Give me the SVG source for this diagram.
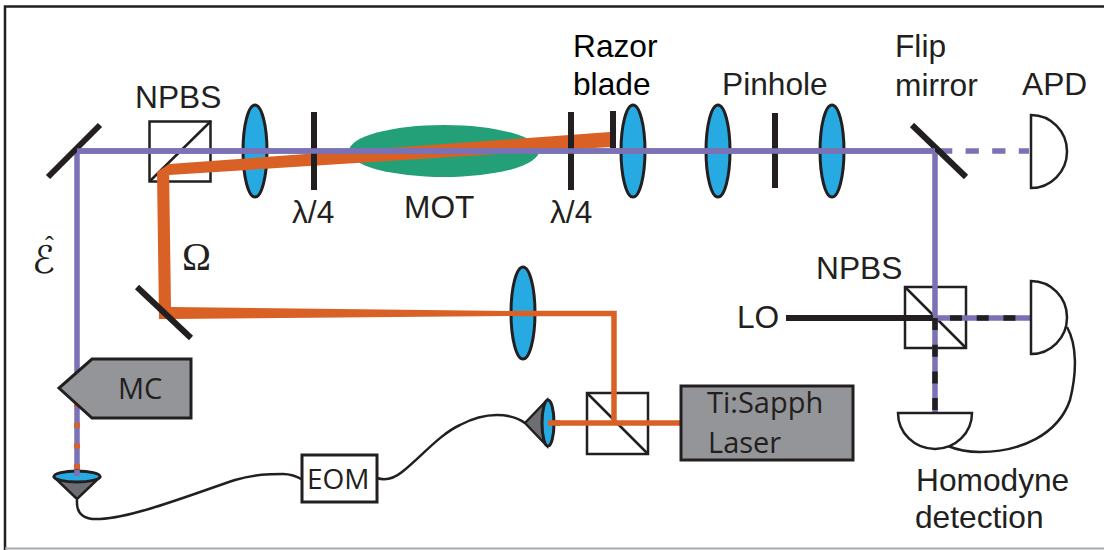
<svg xmlns="http://www.w3.org/2000/svg" width="1104" height="550" viewBox="0 0 1104 550">
<style>
text{font-family:"Liberation Sans",Arial,sans-serif;font-size:31.700px;fill:#231f20}
.my{font-family:"Open Sans","Noto Sans",sans-serif;font-size:29px}
.lens{fill:#27aae1;stroke:#231f20;stroke-width:3}
.cube{fill:none;stroke:#231f20;stroke-width:2.500}
.plate{stroke:#231f20;stroke-width:6;fill:none}
.blue{stroke:#7a72b5;stroke-width:5.500;fill:none}
.org{stroke:#d96126;stroke-width:5.500;fill:none}
.det{fill:#fff;stroke:#231f20;stroke-width:2.500}
.box{fill:#939598;stroke:#231f20;stroke-width:3}
.wire{fill:none;stroke:#231f20;stroke-width:2.500}
.cone{fill:#6d6e71;stroke:#231f20;stroke-width:2.500}
</style>
<g id="frame"><path d="M5 550V6.500H1104" fill="none" stroke="#231f20" stroke-width="2.500"/><path d="M5 548.500H1104" fill="none" stroke="#a7a9ac" stroke-width="2"/></g>
<g id="mot"><ellipse cx="444" cy="151" rx="95" ry="26" fill="#23a077"/><text x="404" y="218">MOT</text></g>
<g id="lens1"><ellipse class="lens" cx="255" cy="151" rx="12" ry="46"/></g>
<g id="lens2"><ellipse class="lens" cx="633" cy="151" rx="12" ry="46"/></g>
<g id="lens3"><ellipse class="lens" cx="718" cy="151" rx="12" ry="46"/></g>
<g id="lens4"><ellipse class="lens" cx="832" cy="151" rx="12" ry="46"/></g>
<g id="lens5"><ellipse class="lens" cx="523" cy="313" rx="12" ry="46"/></g>
<g id="npbs1"><rect class="cube" x="149.500" y="121.500" width="61" height="60"/><path class="cube" d="M211 121L150 181"/><text x="135" y="108">NPBS</text></g>
<g id="cube2"><rect class="cube" x="587" y="393" width="61" height="61"/><path class="cube" d="M587 393L648 454"/></g>
<g id="npbs2"><rect class="cube" x="905" y="287" width="61" height="61"/><path class="cube" d="M905 287L966 348"/><text x="816" y="279">NPBS</text></g>
<g id="connectors">
<polygon points="169,164 610,132 610,147 169,175" fill="#d96126"/>
<polygon points="157,172 169,164 171,307 513,311 513,316 172,319 159,319" fill="#d96126"/>
<path class="org" d="M513 313.500H614V423M548 423H681"/>
<path class="blue" d="M77 476V151H935V412"/>
<path d="M77 402V476" stroke="#d96126" stroke-width="6" stroke-dasharray="5 15.700"/>
<path class="blue" d="M939 151H1029" stroke-dasharray="13.300 13.300"/>
<path d="M786 318H933" stroke="#231f20" stroke-width="6"/>
<path class="blue" d="M935 318H1031"/>
<path d="M950 318H1031" stroke="#231f20" stroke-width="5.500" stroke-dasharray="12 14.700"/>
<path d="M935 318V412" stroke="#231f20" stroke-width="5.500" stroke-dasharray="12 14.700"/>
<path class="wire" d="M77 500C76 515 85 520 100 519C135 517 190 495 235 480C255 474 270 474 283 474C292 474 298 477 303 480"/>
<path class="wire" d="M377 478C383 480 392 480 402 472C420 458 440 434 460 425C475 417 488 415 497 415C508 415 518 418 525 423"/>
<path class="wire" d="M1067 327C1077 345 1077 372 1070 400C1058 435 1020 452 980 452C965 452 955 449 948 446"/>
</g>
<g id="mirror1"><path class="plate" d="M100 125L48 177"/></g>
<g id="mirror2"><path class="plate" d="M137 287L191 338"/></g>
<g id="flip-mirror"><path class="plate" d="M912 125L966 177"/><text x="895" y="57">Flip</text><text x="895" y="96">mirror</text></g>
<g id="wp1"><path d="M314 112V190" stroke="#231f20" stroke-width="6"/><text x="292" y="223">λ/4</text></g>
<g id="wp2"><path d="M571 112V190" stroke="#231f20" stroke-width="6"/><text x="550" y="223">λ/4</text></g>
<g id="razor"><path d="M613 111V148" stroke="#231f20" stroke-width="6"/><text x="573" y="57" style="fill:#000">Razor</text><text x="573" y="95" style="fill:#000">blade</text></g>
<g id="pinhole"><path d="M775 113V188" stroke="#231f20" stroke-width="6"/><text x="722" y="95">Pinhole</text></g>
<path class="blue" d="M77 151H935"/>
<g id="apd"><path class="det" d="M1031 115A36 36.500 0 0 1 1031 188Z"/><text x="1022" y="95">APD</text></g>
<g id="det1"><path class="det" d="M1031 281A36 36.500 0 0 1 1031 354Z"/></g>
<g id="det2"><path class="det" d="M898 413H972A37 36 0 0 1 898 413Z"/></g>
<g id="homodyne"><text x="916" y="491">Homodyne</text><text x="915" y="528">detection</text></g>
<g id="lo"><text x="737" y="328">LO</text></g>
<g id="mc"><polygon class="box" points="92,359 191,359 191,418 92,418 59,388"/><text class="my" x="118" y="399">MC</text></g>
<g id="coupler1"><polygon class="cone" points="55,478 99,478 77,499"/><ellipse class="lens" cx="77" cy="476.500" rx="23" ry="5.500"/><path class="blue" d="M77 470V476"/></g>
<g id="eom"><rect x="302" y="455" width="75" height="47" fill="#fff" stroke="#231f20" stroke-width="3"/><text class="my" x="307" y="489" style="font-size:28px">EOM</text></g>
<g id="coupler2"><polygon class="cone" points="525,423 547,400 547,446"/><ellipse class="lens" cx="548" cy="423" rx="6" ry="23"/><path class="org" d="M548 423H560"/></g>
<g id="laser"><rect class="box" x="681" y="386" width="172" height="74"/><text class="my" x="707" y="413">Ti:Sapph</text><text class="my" x="708" y="453">Laser</text></g>
<g id="labels"><text x="182" y="270" style="font-family:'Liberation Serif',serif;font-size:39px">Ω</text><text x="32" y="273" style="font-family:'DejaVu Sans',sans-serif;font-size:38px;font-style:italic">ℰ<tspan x="45" y="254" style="font-family:'Liberation Serif',serif;font-size:26px;font-style:normal">ˆ</tspan></text></g>
</svg>
